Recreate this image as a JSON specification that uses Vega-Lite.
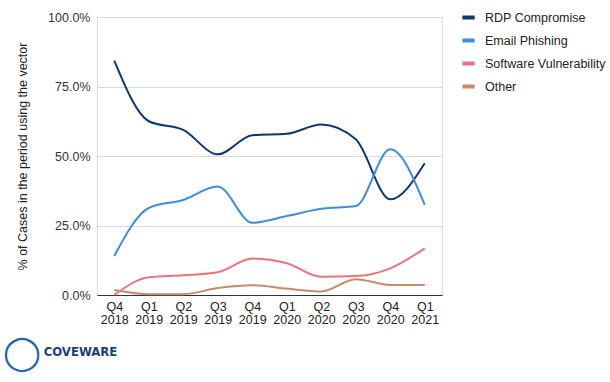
{
  "$schema": "https://vega.github.io/schema/vega-lite/v6.json",
  "width": 345,
  "height": 278,
  "autosize": {"type": "none"},
  "padding": {"left": 97, "top": 17, "right": 168, "bottom": 87},
  "background": "white",
  "title": {
    "text": "◯",
    "subtitle": "\u200b\u00a0\u00a0\u00a0\u00a0\u00a0\u00a0\u00a0\u00a0\u00a0\u00a0COVEWARE",
    "orient": "bottom",
    "anchor": "start",
    "frame": "group",
    "dx": -94,
    "offset": 11,
    "font": "DejaVu Sans",
    "fontSize": 34,
    "fontWeight": "bold",
    "color": "#1f63b0",
    "subtitleFont": "DejaVu Sans Condensed",
    "subtitleFontSize": 13,
    "subtitleFontWeight": "bold",
    "subtitleColor": "#1b3f78",
    "subtitlePadding": -25
  },
  "data": {
    "values": [
      {"q": "Q4 2018", "s": "RDP Compromise", "v": 0.843},
      {"q": "Q1 2019", "s": "RDP Compromise", "v": 0.625},
      {"q": "Q2 2019", "s": "RDP Compromise", "v": 0.594},
      {"q": "Q3 2019", "s": "RDP Compromise", "v": 0.506},
      {"q": "Q4 2019", "s": "RDP Compromise", "v": 0.575},
      {"q": "Q1 2020", "s": "RDP Compromise", "v": 0.58},
      {"q": "Q2 2020", "s": "RDP Compromise", "v": 0.613},
      {"q": "Q3 2020", "s": "RDP Compromise", "v": 0.56},
      {"q": "Q4 2020", "s": "RDP Compromise", "v": 0.344},
      {"q": "Q1 2021", "s": "RDP Compromise", "v": 0.474},
      {"q": "Q4 2018", "s": "Email Phishing", "v": 0.14},
      {"q": "Q1 2019", "s": "Email Phishing", "v": 0.313},
      {"q": "Q2 2019", "s": "Email Phishing", "v": 0.342},
      {"q": "Q3 2019", "s": "Email Phishing", "v": 0.39},
      {"q": "Q4 2019", "s": "Email Phishing", "v": 0.26},
      {"q": "Q1 2020", "s": "Email Phishing", "v": 0.284},
      {"q": "Q2 2020", "s": "Email Phishing", "v": 0.31},
      {"q": "Q3 2020", "s": "Email Phishing", "v": 0.32},
      {"q": "Q4 2020", "s": "Email Phishing", "v": 0.524},
      {"q": "Q1 2021", "s": "Email Phishing", "v": 0.324},
      {"q": "Q4 2018", "s": "Software Vulnerability", "v": 0.0},
      {"q": "Q1 2019", "s": "Software Vulnerability", "v": 0.064},
      {"q": "Q2 2019", "s": "Software Vulnerability", "v": 0.071},
      {"q": "Q3 2019", "s": "Software Vulnerability", "v": 0.082},
      {"q": "Q4 2019", "s": "Software Vulnerability", "v": 0.131},
      {"q": "Q1 2020", "s": "Software Vulnerability", "v": 0.114},
      {"q": "Q2 2020", "s": "Software Vulnerability", "v": 0.066},
      {"q": "Q3 2020", "s": "Software Vulnerability", "v": 0.068},
      {"q": "Q4 2020", "s": "Software Vulnerability", "v": 0.096},
      {"q": "Q1 2021", "s": "Software Vulnerability", "v": 0.168},
      {"q": "Q4 2018", "s": "Other", "v": 0.018},
      {"q": "Q1 2019", "s": "Other", "v": 0.003},
      {"q": "Q2 2019", "s": "Other", "v": 0.003},
      {"q": "Q3 2019", "s": "Other", "v": 0.025},
      {"q": "Q4 2019", "s": "Other", "v": 0.035},
      {"q": "Q1 2020", "s": "Other", "v": 0.023},
      {"q": "Q2 2020", "s": "Other", "v": 0.013},
      {"q": "Q3 2020", "s": "Other", "v": 0.057},
      {"q": "Q4 2020", "s": "Other", "v": 0.036},
      {"q": "Q1 2021", "s": "Other", "v": 0.036}
    ]
  },
  "mark": {"type": "line", "interpolate": "monotone", "strokeWidth": 2},
  "encoding": {
    "x": {
      "field": "q",
      "type": "ordinal",
      "sort": null,
      "scale": {"type": "point", "padding": 0.5},
      "axis": {
        "title": null,
        "labelAngle": 0,
        "labelExpr": "split(datum.label, ' ')",
        "labelFont": "Liberation Sans",
        "labelFontSize": 12.5,
        "labelColor": "#222",
        "labelPadding": 5,
        "labelLineHeight": 13,
        "ticks": false,
        "domainColor": "#333",
        "domainWidth": 1,
        "grid": false
      }
    },
    "y": {
      "field": "v",
      "type": "quantitative",
      "scale": {"domain": [0, 1]},
      "axis": {
        "values": [0, 0.25, 0.5, 0.75, 1],
        "format": ".1%",
        "title": "% of Cases in the period using the vector",
        "titleFont": "Liberation Sans",
        "titleFontSize": 12.5,
        "titleFontWeight": "normal",
        "titleColor": "#222",
        "titlePadding": 18,
        "labelFont": "Liberation Sans",
        "labelFontSize": 12.5,
        "labelColor": "#333",
        "labelPadding": 7,
        "ticks": false,
        "domain": false,
        "gridColor": "#d9d9d9",
        "gridWidth": 1
      }
    },
    "color": {
      "field": "s",
      "type": "nominal",
      "scale": {
        "domain": ["RDP Compromise", "Email Phishing", "Software Vulnerability", "Other"],
        "range": ["#0c3677", "#3d8ddb", "#f2707a", "#c98a6c"]
      },
      "legend": {
        "title": null,
        "orient": "none",
        "legendX": 363,
        "legendY": -8,
        "symbolType": "stroke",
        "symbolStrokeWidth": 4,
        "symbolSize": 150,
        "labelFont": "Liberation Sans",
        "labelFontSize": 12.5,
        "labelColor": "#222",
        "rowPadding": 6,
        "labelOffset": 8
      }
    }
  }
}
